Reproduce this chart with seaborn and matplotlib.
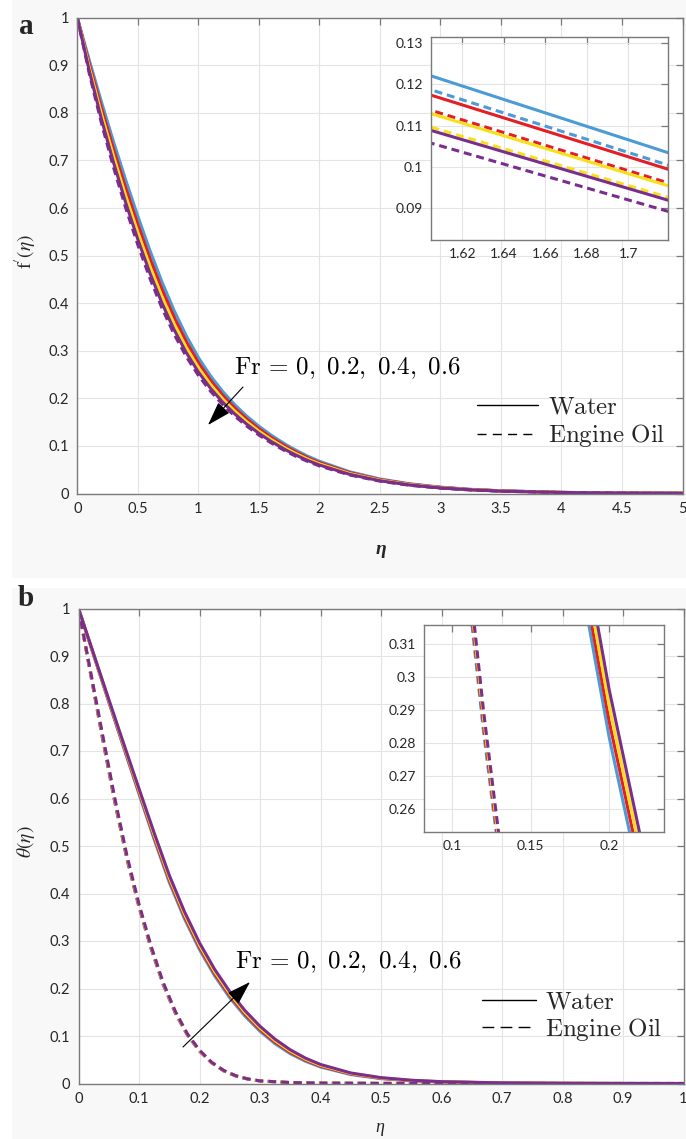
import numpy as np
import pandas as pd
import matplotlib
matplotlib.use("Agg")
import matplotlib.pyplot as plt
import seaborn as sns
from matplotlib.lines import Line2D
from matplotlib.patches import Rectangle, FancyArrowPatch
from matplotlib.font_manager import FontProperties

# ---------------- data ----------------
fr_labels = ["0", "0.2", "0.4", "0.6"]
colors = ["#4a9bd6", "#e41e26", "#f7e01b", "#7b2d8e"]

# panel a : f'(eta)
eta_a = [0, 0.1, 0.2, 0.3, 0.4, 0.5, 0.6, 0.7, 0.8, 0.9, 1.0, 1.1, 1.2, 1.3, 1.4, 1.5, 1.6, 1.72,
         1.8, 1.9, 2.0, 2.25, 2.5, 2.75, 3.0, 3.25, 3.5, 4.0, 4.5, 5.0]
fp_water_fr00 = [1.0, 0.9100, 0.8225, 0.7388, 0.6588, 0.5828, 0.5108, 0.4444, 0.3844, 0.3316, 0.2859,
                 0.2474, 0.2147, 0.1868, 0.1626, 0.1415, 0.1229, 0.1033, 0.0919, 0.0789, 0.0678, 0.0457,
                 0.0305, 0.0203, 0.0134, 0.0088, 0.0058, 0.0024, 0.0010, 0.0004]
fp_oil_fr00 = [1.0, 0.9040, 0.8131, 0.7275, 0.6465, 0.5701, 0.4984, 0.4329, 0.3739, 0.3224, 0.2780,
               0.2406, 0.2089, 0.1818, 0.1582, 0.1376, 0.1195, 0.1003, 0.0891, 0.0765, 0.0657, 0.0443,
               0.0295, 0.0196, 0.0129, 0.0085, 0.0056, 0.0023, 0.0009, 0.0004]
fp_water_fr02 = [1.0, 0.9019, 0.8097, 0.7234, 0.6420, 0.5656, 0.4940, 0.4287, 0.3702, 0.3191, 0.2752,
                 0.2382, 0.2068, 0.1800, 0.1566, 0.1362, 0.1182, 0.0993, 0.0882, 0.0757, 0.0650, 0.0438,
                 0.0292, 0.0194, 0.0128, 0.0084, 0.0055, 0.0023, 0.0009, 0.0004]
fp_oil_fr02 = [1.0, 0.8955, 0.7996, 0.7112, 0.6287, 0.5520, 0.4807, 0.4162, 0.3589, 0.3092, 0.2666,
               0.2309, 0.2006, 0.1745, 0.1518, 0.1320, 0.1145, 0.0960, 0.0852, 0.0732, 0.0628, 0.0422,
               0.0282, 0.0187, 0.0123, 0.0081, 0.0053, 0.0022, 0.0009, 0.0004]
fp_water_fr04 = [1.0, 0.8941, 0.7974, 0.7086, 0.6259, 0.5491, 0.4779, 0.4136, 0.3565, 0.3071, 0.2648,
                 0.2294, 0.1992, 0.1734, 0.1508, 0.1311, 0.1137, 0.0953, 0.0846, 0.0726, 0.0623, 0.0419,
                 0.0279, 0.0185, 0.0122, 0.0080, 0.0053, 0.0022, 0.0009, 0.0004]
fp_oil_fr04 = [1.0, 0.8884, 0.7885, 0.6978, 0.6141, 0.5371, 0.4661, 0.4026, 0.3466, 0.2983, 0.2573,
               0.2229, 0.1937, 0.1686, 0.1466, 0.1274, 0.1104, 0.0925, 0.0820, 0.0704, 0.0604, 0.0405,
               0.0270, 0.0179, 0.0118, 0.0077, 0.0051, 0.0021, 0.0009, 0.0004]
fp_water_fr06 = [1.0, 0.8870, 0.7862, 0.6951, 0.6112, 0.5341, 0.4632, 0.3998, 0.3441, 0.2962, 0.2554,
                 0.2213, 0.1923, 0.1674, 0.1456, 0.1265, 0.1096, 0.0918, 0.0814, 0.0698, 0.0599, 0.0402,
                 0.0268, 0.0177, 0.0116, 0.0077, 0.0050, 0.0021, 0.0009, 0.0004]
fp_oil_fr06 = [1.0, 0.8816, 0.7777, 0.6848, 0.6000, 0.5226, 0.4520, 0.3894, 0.3346, 0.2878, 0.2483,
               0.2152, 0.1871, 0.1628, 0.1416, 0.1229, 0.1065, 0.0891, 0.0789, 0.0677, 0.0580, 0.0389,
               0.0259, 0.0171, 0.0112, 0.0074, 0.0048, 0.0020, 0.0008, 0.0004]

# panel b : theta(eta)
eta_b_water = [0, 0.025, 0.05, 0.075, 0.1, 0.125, 0.15, 0.175, 0.2, 0.225, 0.25, 0.275, 0.3, 0.325,
               0.35, 0.375, 0.4, 0.45, 0.5, 0.55, 0.6, 0.7, 0.8, 0.9, 1.0]
theta_water_fr00 = [1.0, 0.9015, 0.8031, 0.7056, 0.6093, 0.5141, 0.4236, 0.3472, 0.2818, 0.2267, 0.1805,
                    0.1420, 0.1099, 0.0836, 0.0628, 0.0469, 0.0347, 0.0188, 0.0102, 0.0057, 0.0033,
                    0.0009, 0.0004, 0.0001, 0.0]
theta_water_fr02 = [1.0, 0.9025, 0.8050, 0.7085, 0.6131, 0.5187, 0.4286, 0.3522, 0.2866, 0.2313, 0.1849,
                    0.1460, 0.1135, 0.0868, 0.0656, 0.0491, 0.0365, 0.0200, 0.0110, 0.0061, 0.0035,
                    0.0011, 0.0004, 0.0001, 0.0]
theta_water_fr04 = [1.0, 0.9035, 0.8070, 0.7115, 0.6169, 0.5233, 0.4336, 0.3572, 0.2914, 0.2359, 0.1892,
                    0.1499, 0.1170, 0.0900, 0.0683, 0.0513, 0.0383, 0.0211, 0.0117, 0.0065, 0.0037,
                    0.0011, 0.0004, 0.0001, 0.0]
theta_water_fr06 = [1.0, 0.9045, 0.8089, 0.7144, 0.6207, 0.5279, 0.4386, 0.3622, 0.2962, 0.2405, 0.1935,
                    0.1538, 0.1205, 0.0932, 0.0710, 0.0535, 0.0401, 0.0222, 0.0124, 0.0069, 0.0039,
                    0.0013, 0.0004, 0.0001, 0.0]

eta_b_oil = [0, 0.02, 0.04, 0.06, 0.08, 0.1, 0.12, 0.14, 0.16, 0.18, 0.2, 0.22, 0.24, 0.26, 0.28, 0.3,
             0.35, 0.4, 0.5, 0.6, 0.8, 1.0]
theta_oil_fr00 = [1.0, 0.8610, 0.7229, 0.5912, 0.4718, 0.3704, 0.2829, 0.2075, 0.1479, 0.1015, 0.0678,
                  0.0433, 0.0264, 0.0157, 0.0093, 0.0053, 0.0020, 0.0008, 0.0002, 0.0001, 0.0, 0.0]
theta_oil_fr02 = [1.0, 0.8630, 0.7263, 0.5944, 0.4746, 0.3728, 0.2850, 0.2092, 0.1493, 0.1025, 0.0686,
                  0.0438, 0.0268, 0.0159, 0.0094, 0.0054, 0.0020, 0.0008, 0.0002, 0.0001, 0.0, 0.0]
theta_oil_fr04 = [1.0, 0.8650, 0.7297, 0.5976, 0.4774, 0.3752, 0.2871, 0.2109, 0.1507, 0.1035, 0.0694,
                  0.0443, 0.0272, 0.0161, 0.0094, 0.0054, 0.0020, 0.0008, 0.0002, 0.0001, 0.0, 0.0]
theta_oil_fr06 = [1.0, 0.8670, 0.7331, 0.6008, 0.4802, 0.3776, 0.2892, 0.2126, 0.1521, 0.1045, 0.0702,
                  0.0448, 0.0276, 0.0163, 0.0095, 0.0055, 0.0020, 0.0008, 0.0002, 0.0001, 0.0, 0.0]

xticks_a = [0, 0.5, 1, 1.5, 2, 2.5, 3, 3.5, 4, 4.5, 5]
xticks_b = [0, 0.1, 0.2, 0.3, 0.4, 0.5, 0.6, 0.7, 0.8, 0.9, 1]
yticks_main = [0, 0.1, 0.2, 0.3, 0.4, 0.5, 0.6, 0.7, 0.8, 0.9, 1]
xticks_ins_a = [1.62, 1.64, 1.66, 1.68, 1.70]
yticks_ins_a = [0.09, 0.10, 0.11, 0.12, 0.13]
xticks_ins_b = [0.10, 0.15, 0.20]
yticks_ins_b = [0.26, 0.27, 0.28, 0.29, 0.30, 0.31]

fp_water = [fp_water_fr00, fp_water_fr02, fp_water_fr04, fp_water_fr06]
fp_oil = [fp_oil_fr00, fp_oil_fr02, fp_oil_fr04, fp_oil_fr06]
th_water = [theta_water_fr00, theta_water_fr02, theta_water_fr04, theta_water_fr06]
th_oil = [theta_oil_fr00, theta_oil_fr02, theta_oil_fr04, theta_oil_fr06]

# ---------------- style ----------------
sns.set_theme(style="white")
plt.rcParams["font.family"] = ["Lato", "DejaVu Sans"]
plt.rcParams["mathtext.fontset"] = "stix"

W, H = 686, 1139
fig = plt.figure(figsize=(W / 100, H / 100), dpi=100)
fig.patch.set_facecolor("white")

def fx(px):
    return px / W

def fy(py):
    return 1 - py / H

def rect(l, t, r, b):
    return [fx(l), fy(b), (r - l) / W, (b - t) / H]

# light grey panel backgrounds
fig.patches.append(Rectangle((fx(12), fy(578)), (W - 12) / W, 578 / H, transform=fig.transFigure,
                             facecolor="#f8f8f8", edgecolor="none", zorder=-10))
fig.patches.append(Rectangle((fx(12), fy(H)), (W - 12) / W, (H - 588) / H, transform=fig.transFigure,
                             facecolor="#f8f8f8", edgecolor="none", zorder=-10))

SPINE = "#7a7a7a"
TICKC = "#262626"
LW = 2.2
DASH = (0, (2.6, 1.6))

def style_axes(ax, xt, yt, xlim, ylim, fs=10.5):
    ax.set_facecolor("white")
    ax.set_xlim(*xlim)
    ax.set_ylim(*ylim)
    ax.set_xticks(xt)
    ax.set_yticks(yt)
    ax.set_xticklabels([("%g" % v) for v in xt])
    ax.set_yticklabels([("%g" % v) for v in yt])
    ax.grid(True, color="#e4e4e4", lw=0.8)
    ax.set_axisbelow(True)
    for s in ax.spines.values():
        s.set_visible(True)
        s.set_color(SPINE)
        s.set_linewidth(1.0)
    ax.tick_params(direction="in", length=5, width=0.9, color=SPINE, top=True, right=True,
                   labelsize=fs, labelcolor=TICKC, pad=6)
    ax.set_xlabel("")
    ax.set_ylabel("")

def draw_curves(ax, x_w, ys_w, x_o, ys_o):
    for i in range(4):
        dw = pd.DataFrame({"eta": x_w, "val": ys_w[i]})
        do = pd.DataFrame({"eta": x_o, "val": ys_o[i]})
        sns.lineplot(data=dw, x="eta", y="val", ax=ax, color=colors[i], lw=LW,
                     estimator=None, sort=False, legend=False)
        sns.lineplot(data=do, x="eta", y="val", ax=ax, color=colors[i], lw=LW,
                     linestyle=DASH, estimator=None, sort=False, legend=False)

# ---------------- panel a ----------------
ax_a = fig.add_axes(rect(77.3, 17.7, 682.5, 493.5))
draw_curves(ax_a, eta_a, fp_water, eta_a, fp_oil)
style_axes(ax_a, xticks_a, yticks_main, (0, 5), (0, 1))

ins_a = fig.add_axes(rect(431, 37, 668, 240))
draw_curves(ins_a, eta_a, fp_water, eta_a, fp_oil)
style_axes(ins_a, xticks_ins_a, yticks_ins_a, (1.605, 1.719), (0.0823, 0.1315), fs=10)
ins_a.set_xticklabels(["1.62", "1.64", "1.66", "1.68", "1.7"])
ins_a.set_yticklabels(["0.09", "0.1", "0.11", "0.12", "0.13"])

# ---------------- panel b ----------------
ax_b = fig.add_axes(rect(78.5, 608.5, 683.5, 1083.5))
draw_curves(ax_b, eta_b_water, th_water, eta_b_oil, th_oil)
style_axes(ax_b, xticks_b, yticks_main, (0, 1), (0, 1))

ins_b = fig.add_axes(rect(424, 625, 664, 832))
draw_curves(ins_b, eta_b_water, th_water, eta_b_oil, th_oil)
style_axes(ins_b, xticks_ins_b, yticks_ins_b, (0.0819, 0.235), (0.2531, 0.3157), fs=10)
ins_b.set_xticklabels(["0.1", "0.15", "0.2"])
ins_b.set_yticklabels(["0.26", "0.27", "0.28", "0.29", "0.3", "0.31"])

# ---------------- texts ----------------
cm_prop = FontProperties(size=18, math_fontfamily="cm")
fr_text = r"$\mathrm{Fr}\,=\,0,\ 0.2,\ 0.4,\ 0.6$"
fig.text(fx(347), fy(368), fr_text, fontproperties=cm_prop, ha="center", va="center", color="black")
fig.text(fx(348), fy(962), fr_text, fontproperties=cm_prop, ha="center", va="center", color="black")

arrow_kw = dict(arrowstyle="-|>,head_length=0.75,head_width=0.24", color="black", lw=0.8,
                mutation_scale=20, shrinkA=0, shrinkB=0)
fig.add_artist(FancyArrowPatch((fx(243), fy(387)), (fx(208), fy(425)),
                               transform=fig.transFigure, **arrow_kw))
fig.add_artist(FancyArrowPatch((fx(183), fy(1047)), (fx(250), fy(982)),
                               transform=fig.transFigure, **arrow_kw))

def add_legend(ax, x_px, y_px, dash, spacing, hlen):
    handles = [Line2D([], [], color="black", lw=1.0),
               Line2D([], [], color="black", lw=1.0, dashes=dash)]
    labels = [r"$\mathrm{Water}$", r"$\mathrm{Engine\ Oil}$"]
    pos = ax.transAxes.inverted().transform(fig.transFigure.transform((fx(x_px), fy(y_px))))
    ax.legend(handles, labels, loc="center left", bbox_to_anchor=tuple(pos), frameon=False,
              borderpad=0, borderaxespad=0, handlelength=hlen, handletextpad=0.38,
              labelspacing=spacing, prop=FontProperties(size=18, math_fontfamily="cm"))

add_legend(ax_a, 477, 422, (6.5, 4.5), 0.2, 2.45)
add_legend(ax_b, 482, 1016, (8.5, 4.5), 0.13, 2.15)

# axis labels and panel letters
fig.text(fx(26), fy(252), r"$\mathrm{f}'(\eta)$", rotation=90, ha="center", va="center", size=14)
fig.text(fx(26), fy(842), r"$\theta(\eta)$", rotation=90, ha="center", va="center", size=14)
fig.text(fx(381), fy(550), "η", family="Liberation Serif", style="italic", weight="bold",
         ha="center", va="center", size=14)
fig.text(fx(380), fy(1128), "η", family="Liberation Serif", style="italic",
         ha="center", va="center", size=13)
fig.text(fx(26), fy(27), "a", family="Liberation Serif", weight="bold", ha="center", va="center", size=21)
fig.text(fx(26), fy(598), "b", family="Liberation Serif", weight="bold", ha="center", va="center", size=21)

fig.savefig("out.png", dpi=100, facecolor=fig.get_facecolor())
